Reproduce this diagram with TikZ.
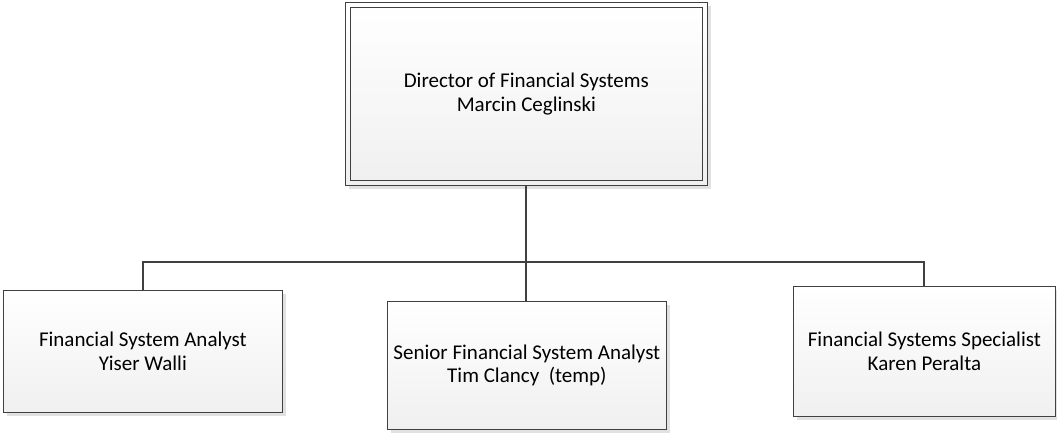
\documentclass[tikz,border=0pt]{standalone}
\usepackage{fontspec}
\setmainfont{Carlito}
\usetikzlibrary{shadows}
\definecolor{edge}{HTML}{404040}
\begin{document}
\begin{tikzpicture}[x=1pt,y=-1pt,
  box/.style={draw=edge, line width=0.8pt, top color=white, bottom color=gray!12,
    drop shadow={shadow xshift=4pt, shadow yshift=-4pt, fill=gray!30, opacity=0.8},
    align=center, font=\fontsize{21}{23.5}\selectfont, anchor=north west, inner sep=0pt},
  conn/.style={draw=edge, line width=2pt}]
\useasboundingbox (0,0) rectangle (1057,432);
\node[box, minimum width=362pt, minimum height=183pt] (top) at (345,2)
  {Director of Financial Systems\\Marcin Ceglinski};
\draw[draw=edge, line width=0.8pt] ([shift={(5,5)}]top.north west) rectangle ([shift={(-5,-5)}]top.south east);
\node[box, minimum width=279pt, minimum height=122pt] (left) at (3,290)
  {Financial System Analyst\\Yiser Walli};
\node[box, minimum width=279pt, minimum height=128pt] (mid) at (387,301)
  {Senior Financial System Analyst\\Tim Clancy~~(temp)};
\node[box, minimum width=262pt, minimum height=130pt] (right) at (793,286)
  {Financial Systems Specialist\\Karen Peralta};
\coordinate (bus) at (526,262);
\draw[conn] (top.south) -- (top.south |- mid.north);
\draw[conn] (left.north) -- (left.north |- bus) -- (right.north |- bus) -- (right.north);
\end{tikzpicture}
\end{document}
